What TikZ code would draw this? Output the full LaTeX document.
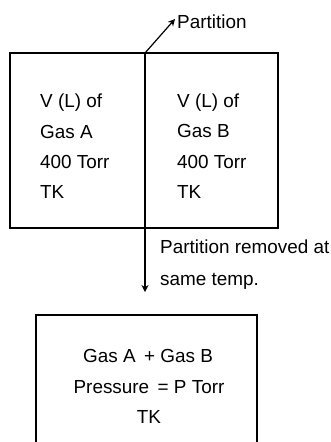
\documentclass[tikz,border=0pt]{standalone}
\usepackage{fontspec}
\setmainfont{Liberation Sans}
\usetikzlibrary{arrows.meta}
\begin{document}
\begin{tikzpicture}[x=1pt,y=-1pt,
  lbl/.style={inner sep=0pt,font=\fontsize{18.9}{22}\selectfont},
  boxline/.style={line width=1.3pt,line join=miter},
  arr/.style={line width=1.2pt,-{Stealth[length=7pt,width=7pt]}}]
\useasboundingbox (0,0) rectangle (331,442);
% top container
\coordinate (tl) at (10,53);
\coordinate (br) at (278,228);
\draw[boxline] (tl) rectangle (br);
% partition
\coordinate (ptop) at (145,53);
\coordinate (pend) at (145,292);
\draw[arr] (ptop) -- (pend);
\node[lbl,anchor=base west] (plabel) at (177,28) {Partition};
\draw[arr] (ptop) -- ([xshift=-2pt]plabel.west |- 0,19) coordinate (ptip);
% left gas
\node[lbl,anchor=base west] (a1) at (40,107) {V (L) of};
\node[lbl,anchor=base west] (a2) at (40,138) {Gas A};
\node[lbl,anchor=base west] (a3) at (40,168) {400 Torr};
\node[lbl,anchor=base west] (a4) at (40,198) {TK};
% right gas
\node[lbl,anchor=base west] (b1) at (177,107) {V (L) of};
\node[lbl,anchor=base west] (b2) at (177,137) {Gas B};
\node[lbl,anchor=base west] (b3) at (177,168) {400 Torr};
\node[lbl,anchor=base west] (b4) at (177,198) {TK};
% removal label
\node[lbl,anchor=base west] (r1) at (160,253) {Partition removed at};
\node[lbl,anchor=base west] (r2) at (160,285) {same temp.};
% bottom container (cut off at the lower edge)
\coordinate (bl) at (36,450);
\coordinate (btl) at (36,315);
\coordinate (btr) at (257,315);
\coordinate (bbr) at (257,450);
\draw[boxline] (bl) -- (btl) -- (btr) -- (bbr);
\node[lbl,anchor=base] (c1) at (148,362) {Gas A\ \,+ Gas B};
\node[lbl,anchor=base] (c2) at (149,393) {Pressure\ \,= P Torr};
\node[lbl,anchor=base] (c3) at (149,423) {TK};
\end{tikzpicture}
\end{document}
